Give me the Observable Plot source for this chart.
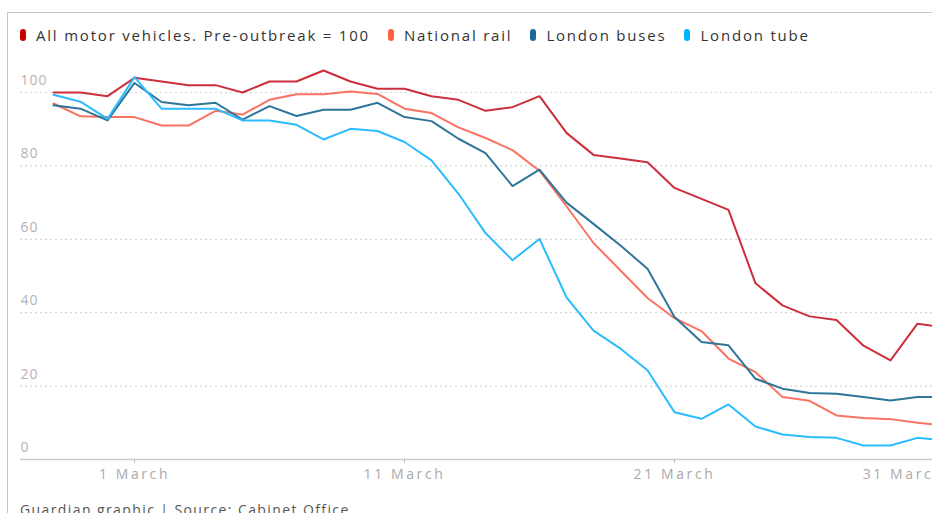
<!DOCTYPE html>
<html>
<head>
<meta charset="utf-8">
<script src="https://cdn.jsdelivr.net/npm/d3@7"></script>
<script src="https://cdn.jsdelivr.net/npm/@observablehq/plot@0.6"></script>
<style>
  html, body { margin: 0; padding: 0; background: #fff; }
  body { width: 932px; height: 513px; overflow: hidden; position: relative; font-family: "Open Sans", sans-serif; }
  #frame { position: absolute; left: 7px; top: 12px; width: 1000px; height: 600px; border-top: 1.5px solid #c6c6c6; border-left: 1.5px solid #c6c6c6; }
  #legend { position: absolute; left: 20px; top: 25px; display: flex; align-items: center; font-size: 15px; letter-spacing: 1.8px; color: #333; white-space: nowrap; }
  .item { display: flex; align-items: center; margin-right: 18px; }
  .swatch { width: 6px; height: 12px; border-radius: 3px; margin-right: 10px; }
  #chart { position: absolute; left: 0; top: 44px; width: 960px; }
  #chart svg { max-width: none !important; }
  #chart g[aria-label="x-axis tick label"] text { letter-spacing: 2.6px; }
  #chart g[aria-label="y-axis tick label"] text { letter-spacing: 1px; }
  #caption { position: absolute; left: 20px; top: 500px; font-size: 14px; letter-spacing: 1.4px; color: #555; white-space: nowrap; }
</style>
</head>
<body>
<div id="frame"></div>
<div id="legend"></div>
<div id="chart"></div>
<div id="caption">Guardian graphic | Source: Cabinet Office</div>
<script>
const dates = ["2020-02-27","2020-02-28","2020-02-29","2020-03-01","2020-03-02","2020-03-03","2020-03-04","2020-03-05","2020-03-06","2020-03-07","2020-03-08","2020-03-09","2020-03-10","2020-03-11","2020-03-12","2020-03-13","2020-03-14","2020-03-15","2020-03-16","2020-03-17","2020-03-18","2020-03-19","2020-03-20","2020-03-21","2020-03-22","2020-03-23","2020-03-24","2020-03-25","2020-03-26","2020-03-27","2020-03-28","2020-03-29","2020-03-30","2020-03-31"];

const seriesNames = ["All motor vehicles. Pre-outbreak = 100", "National rail", "London buses", "London tube"];
const legendColors = ["#c70000", "#ff5f45", "#1b6a94", "#00b2ff"];
const lineColors = ["#cc2f3b", "#fa7261", "#2f7599", "#2bbcff"];

const motorVehicles = [100, 100, 99, 104, 103, 102, 102, 100, 103, 103, 106, 103, 101, 101, 99, 98, 95, 96, 99, 89, 83, 82, 81, 74, 71, 68, 48, 42, 39, 38, 31, 27, 37, 36];
const nationalRail = [97, 93.5, 93.3, 93.3, 91, 91, 95, 94, 98, 99.5, 99.5, 100.3, 99.6, 95.6, 94.4, 90.5, 87.6, 84.3, 78.7, 69, 59, 51.5, 44, 38.5, 35, 27.5, 23.8, 17, 16, 12, 11.3, 11, 10, 9.3];
const londonBuses = [96.5, 95.6, 92.4, 102.6, 97.4, 96.5, 97.2, 92.6, 96.3, 93.6, 95.3, 95.3, 97.2, 93.3, 92.2, 87.4, 83.5, 74.5, 79, 70, 64.2, 58.3, 52, 38.8, 32, 31.1, 22, 19.3, 18.1, 17.9, 17, 16.1, 17, 17];
const londonTube = [99.4, 97.5, 92.8, 104.2, 95.6, 95.6, 95.6, 92.4, 92.4, 91.2, 87.2, 90.1, 89.5, 86.5, 81.5, 72.4, 61.7, 54.3, 60.1, 44.2, 35.1, 30.2, 24.3, 12.9, 11.1, 15, 9, 6.8, 6.1, 5.9, 3.8, 3.8, 5.9, 5.2];

const yTicks = [0, 20, 40, 60, 80, 100];
const xTickLabels = ["2020-03-01", "2020-03-11", "2020-03-21", "2020-03-31"];

const allSeries = [motorVehicles, nationalRail, londonBuses, londonTube];
const data = [];
allSeries.forEach((vals, si) => {
  vals.forEach((v, i) => data.push({date: new Date(dates[i]), value: v, series: seriesNames[si]}));
});

// legend
const legend = document.getElementById("legend");
seriesNames.forEach((name, i) => {
  const item = document.createElement("div");
  item.className = "item";
  const sw = document.createElement("span");
  sw.className = "swatch";
  sw.style.background = legendColors[i];
  const label = document.createElement("span");
  label.textContent = name;
  item.appendChild(sw);
  item.appendChild(label);
  legend.appendChild(item);
});

const xTicks = xTickLabels.map(d => new Date(d));
const fmt = d3.utcFormat("%-d %B");
const axisStyle = {stroke: "#c0c0c0", fill: "#aaaaaa", label: null, tickFormat: fmt, tickSize: 4, tickPadding: 6};

const chart = Plot.plot({
  width: 960,
  height: 460,
  marginLeft: 53,
  marginRight: 16,
  marginTop: 48,
  marginBottom: 45,
  style: {fontFamily: "Open Sans, sans-serif", fontSize: "14px", overflow: "visible", background: "transparent", maxWidth: "none"},
  x: {type: "utc", domain: [new Date(dates[0]), new Date(dates[dates.length - 1])]},
  y: {domain: [0, 100]},
  color: {domain: seriesNames, range: lineColors},
  marks: [
    Plot.ruleY(yTicks.filter(d => d > 0), {stroke: "#d6d6d6", strokeWidth: 1.2, strokeDasharray: "2,3", insetLeft: -33, insetRight: -20}),
    Plot.ruleY([0], {stroke: "#cdcdcd", strokeWidth: 1.5, insetLeft: -33, insetRight: -20}),
    Plot.axisY({ticks: yTicks, tickSize: 0, tickPadding: 0, dx: -33, dy: -12, textAnchor: "start", fill: "#b3b3b3", label: null}),
    Plot.axisX({...axisStyle, ticks: xTicks.slice(0, -1)}),
    Plot.axisX({...axisStyle, ticks: xTicks.slice(-1), textAnchor: "end"}),
    Plot.line(data, {x: "date", y: "value", z: "series", stroke: "series", strokeWidth: 2, strokeLinejoin: "round"})
  ]
});
document.getElementById("chart").appendChild(chart);
</script>
</body>
</html>
